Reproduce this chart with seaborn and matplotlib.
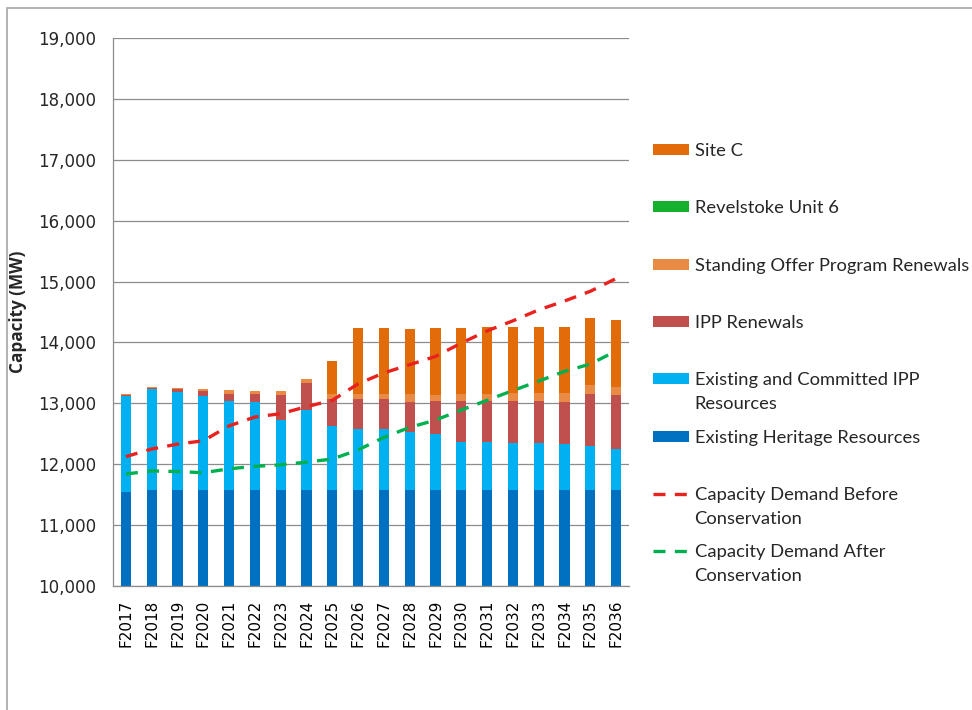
import numpy as np
import pandas as pd
import matplotlib
matplotlib.use("Agg")
import matplotlib.pyplot as plt
from matplotlib.patches import Patch, Rectangle
from matplotlib.lines import Line2D
from matplotlib.ticker import FuncFormatter, FixedLocator
import seaborn as sns

# ---- data (MW) ----
years = [f"F{y}" for y in range(2017, 2037)]

heritage = [11540] + [11580] * 19
existing_ipp = [1580, 1650, 1600, 1545, 1460, 1435, 1145, 1315, 1055, 1000,
                1000, 945, 915, 790, 790, 775, 775, 755, 720, 665]
ipp_renewals = [20, 15, 60, 80, 120, 140, 420, 440, 440, 495,
                495, 505, 540, 665, 665, 680, 680, 695, 860, 895]
sop_renewals = [10, 20, 10, 25, 60, 45, 60, 70, 75, 75,
                75, 120, 105, 120, 120, 135, 135, 135, 140, 135]
revelstoke6 = [0] * 20
site_c = [0, 0, 0, 0, 0, 0, 0, 0, 540, 1085,
          1095, 1075, 1090, 1075, 1095, 1080, 1080, 1095, 1100, 1100]

demand_before = [12125, 12250, 12330, 12385, 12630, 12775, 12830, 12945, 13050, 13320,
                 13500, 13635, 13770, 13990, 14190, 14355, 14535, 14680, 14840, 15050]
demand_after = [11840, 11890, 11880, 11860, 11925, 11965, 11990, 12035, 12085, 12235,
                12440, 12605, 12725, 12890, 13050, 13210, 13365, 13525, 13645, 13860]

# stack order from the bottom up
series = [
    ("Existing Heritage Resources", heritage, "#0070C0"),
    ("Existing and Committed IPP\nResources", existing_ipp, "#00B0F0"),
    ("IPP Renewals", ipp_renewals, "#C0504D"),
    ("Standing Offer Program Renewals", sop_renewals, "#E98A45"),
    ("Revelstoke Unit 6", revelstoke6, "#15B02E"),
    ("Site C", site_c, "#E36C0A"),
]
lines = [
    ("Capacity Demand Before\nConservation", demand_before, "#E8221E"),
    ("Capacity Demand After\nConservation", demand_after, "#00B050"),
]

sns.set_style("white")
plt.rcParams["font.family"] = ["DejaVu Sans"]

W, H = 972, 710
fig = plt.figure(figsize=(W / 100, H / 100), dpi=100)
ax = fig.add_axes([113 / W, 1 - 586 / H, (629 - 113) / W, (586 - 38) / H])

# stacked columns: draw cumulative totals from the top layer down
df = pd.DataFrame({"year": years})
cum = np.zeros(len(years))
cums = []
for name, vals, col in series:
    cum = cum + np.asarray(vals, dtype=float)
    cums.append((name, cum.copy(), col))
for name, c, col in reversed(cums):
    sns.barplot(x=df["year"], y=c, color=col, width=0.4, saturation=1,
                errorbar=None, ax=ax, linewidth=0, zorder=2)

# demand forecasts
pos = np.arange(len(years))
for name, vals, col in lines:
    sns.lineplot(x=pos, y=vals, color=col, linewidth=2.4,
                 linestyle=(0, (3.6, 2.8)), ax=ax, zorder=3)

# axes styling
ax.set_ylim(10000, 19000)
ax.set_xlim(-0.5, len(years) - 0.5)
ax.yaxis.set_major_locator(FixedLocator(np.arange(10000, 19001, 1000)))
ax.yaxis.set_major_formatter(FuncFormatter(lambda v, p: f"{int(v):,}"))
ax.grid(axis="y", color="#8C8C8C", linewidth=0.9, zorder=0)
ax.set_axisbelow(True)
for s in ["top", "right"]:
    ax.spines[s].set_visible(False)
for s in ["left", "bottom"]:
    ax.spines[s].set_color("#8C8C8C")
    ax.spines[s].set_linewidth(0.9)

ax.set_xticks(pos)
ax.set_xticklabels(years, rotation=90, fontsize=11, color="#000000")
ax.set_xticks(np.arange(-0.5, len(years), 1.0), minor=True)
ax.tick_params(axis="x", which="major", length=0, pad=10)
ax.tick_params(axis="x", which="minor", length=5, width=0.9, color="#8C8C8C", direction="out")
ax.tick_params(axis="y", which="major", length=4, width=0.9, color="#8C8C8C",
               direction="out", pad=8, labelsize=12)
ax.set_xlabel("")
ax.set_ylabel("Capacity (MW)", fontsize=12.3, fontweight="bold", family=["Open Sans"])
ax.yaxis.set_label_coords(-0.166, 0.5)

# legend (top of stack listed first)
handles, labels = [], []
for name, vals, col in reversed(series):
    handles.append(Patch(facecolor=col, edgecolor="none"))
    labels.append(name)
for name, vals, col in lines:
    handles.append(Line2D([0], [0], color=col, linewidth=2.4, linestyle=(0, (3.6, 2.8))))
    labels.append(name)

LEG_SIZE = 13.2
first_lines = [l.split("\n")[0] for l in labels]
leg_font = dict(family="Lato", size=LEG_SIZE)
leg = fig.legend(handles, first_lines, loc="upper left",
                 bbox_to_anchor=(653 / W, 1 - 143 / H), frameon=False,
                 borderpad=0, borderaxespad=0, handlelength=1.97, handleheight=0.55,
                 handletextpad=0.3, labelspacing=2.255, prop=leg_font)

# continuation lines of the two-line legend labels
fig.canvas.draw()
r = fig.canvas.get_renderer()
for t, full in zip(leg.get_texts(), labels):
    parts = full.split("\n")
    if len(parts) > 1:
        bb = t.get_window_extent(r)
        yc = (bb.y0 + bb.y1) / 2 - 24
        fig.text(bb.x0 / W, yc / H, parts[1], ha="left", va="center",
                 fontfamily="Lato", fontsize=LEG_SIZE)

# chart frame
fig.add_artist(Rectangle((7 / W, -0.2), 1.2, 1.2 - 8 / H, transform=fig.transFigure,
                         fill=False, edgecolor="#A6A6A6", linewidth=1.2, clip_on=False))

fig.savefig("out.png", dpi=100)
